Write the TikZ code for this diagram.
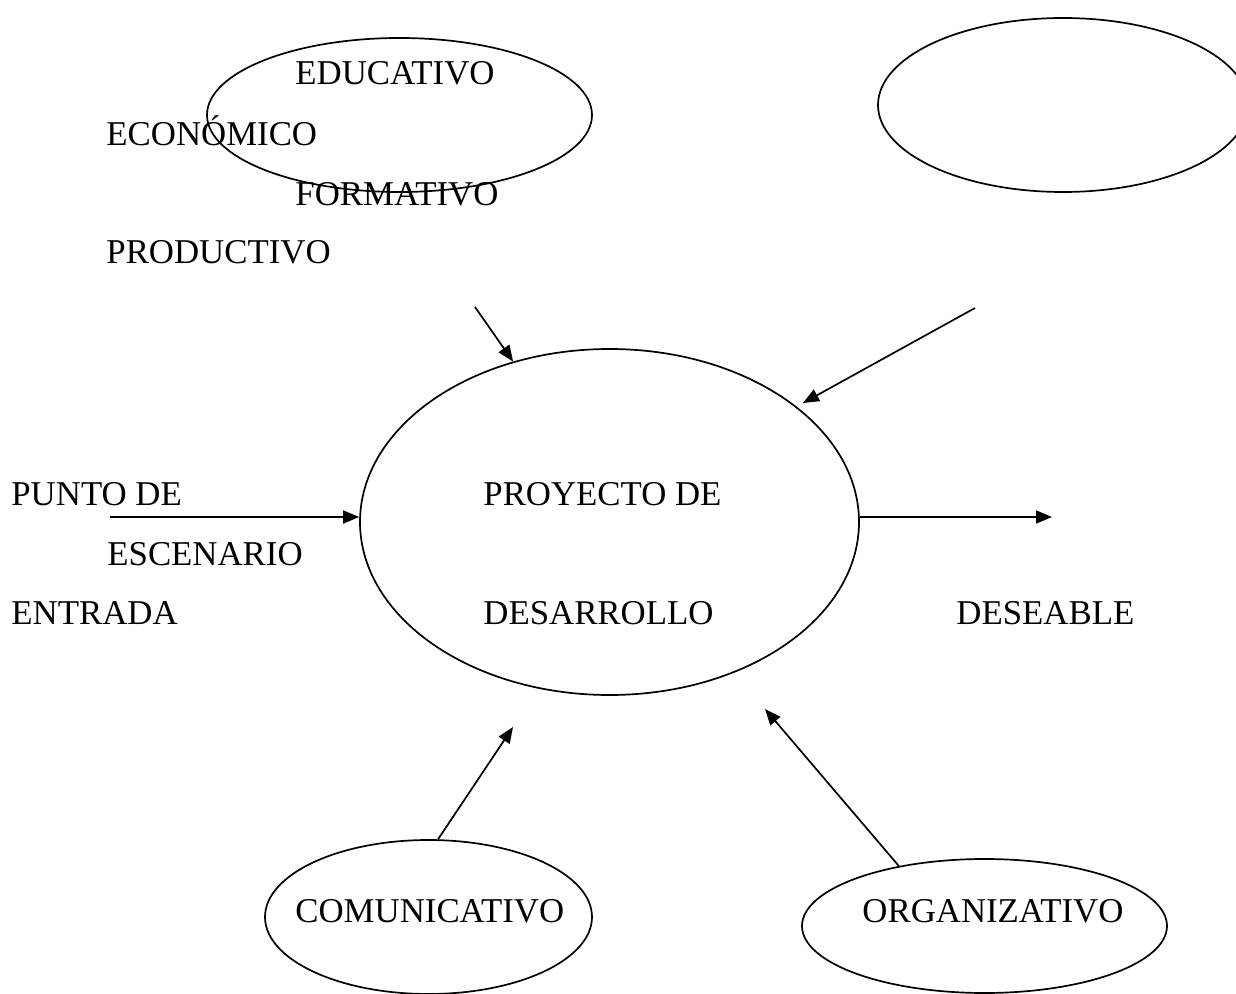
\documentclass[tikz,border=0pt]{standalone}
\usepackage{fontspec}
\setmainfont{Liberation Serif}
\usetikzlibrary{shapes.geometric,arrows.meta}
\tikzset{
  oval/.style={draw=black, ellipse, inner sep=0pt, line width=0.85pt},
  lbl/.style={anchor=base west, inner sep=0pt, font=\fontsize{17.4}{20}\selectfont},
  conn/.style={line width=0.85pt, -{Triangle[length=8pt,width=6.5pt]}}
}
\begin{document}
\begin{tikzpicture}[x=0.5pt,y=-0.5pt]
\useasboundingbox (0,0) rectangle (1236,994);
% ellipses
\node[oval, minimum width=192.5pt, minimum height=77pt] (edu) at (399.5,115) {};
\node[oval, minimum width=185pt, minimum height=87pt] (blank) at (1063,105) {};
\node[oval, minimum width=249.5pt, minimum height=173pt] (proy) at (609.5,522) {};
\node[oval, minimum width=163.5pt, minimum height=77pt] (com) at (428.5,917) {};
\node[oval, minimum width=182.5pt, minimum height=67pt] (org) at (984.5,926) {};
% texts
\node[lbl] (tEdu) at (295,85) {EDUCATIVO};
\node[lbl] (tEco) at (106,146) {ECONÓMICO};
\node[lbl] (tFor) at (295,206) {FORMATIVO};
\node[lbl] (tPro) at (106,264) {PRODUCTIVO};
\node[lbl] (tPun) at (11,505) {PUNTO DE};
\node[lbl] (tEsc) at (107,565) {ESCENARIO};
\node[lbl] (tEnt) at (11,624) {ENTRADA};
\node[lbl] (tPry) at (483,505) {PROYECTO DE};
\node[lbl] (tDes) at (483,624) {DESARROLLO};
\node[lbl] (tDeb) at (956,624) {DESEABLE};
\node[lbl] (tCom) at (295,922) {COMUNICATIVO};
\node[lbl] (tOrg) at (862,922) {ORGANIZATIVO};
% free ends
\coordinate (a1) at (475,307);
\coordinate (a2) at (975,308);
\coordinate (a2t) at (803,403);
\coordinate (a3) at (110,517);
\coordinate (a4) at (1052,517);
\coordinate (a5t) at (513,727);
\coordinate (a6t) at (765,709);
% connectors
\draw[conn] (a1) -- (proy.121.4);
\draw[conn] (a2) -- (a2t);
\draw[conn] (a3) -- (a3 -| proy.west);
\draw[conn] (a4 -| proy.east) -- (a4);
\draw[conn] (com.83.5) -- (a5t);
\draw[conn] (org.145.7) -- (a6t);
\end{tikzpicture}
\end{document}
